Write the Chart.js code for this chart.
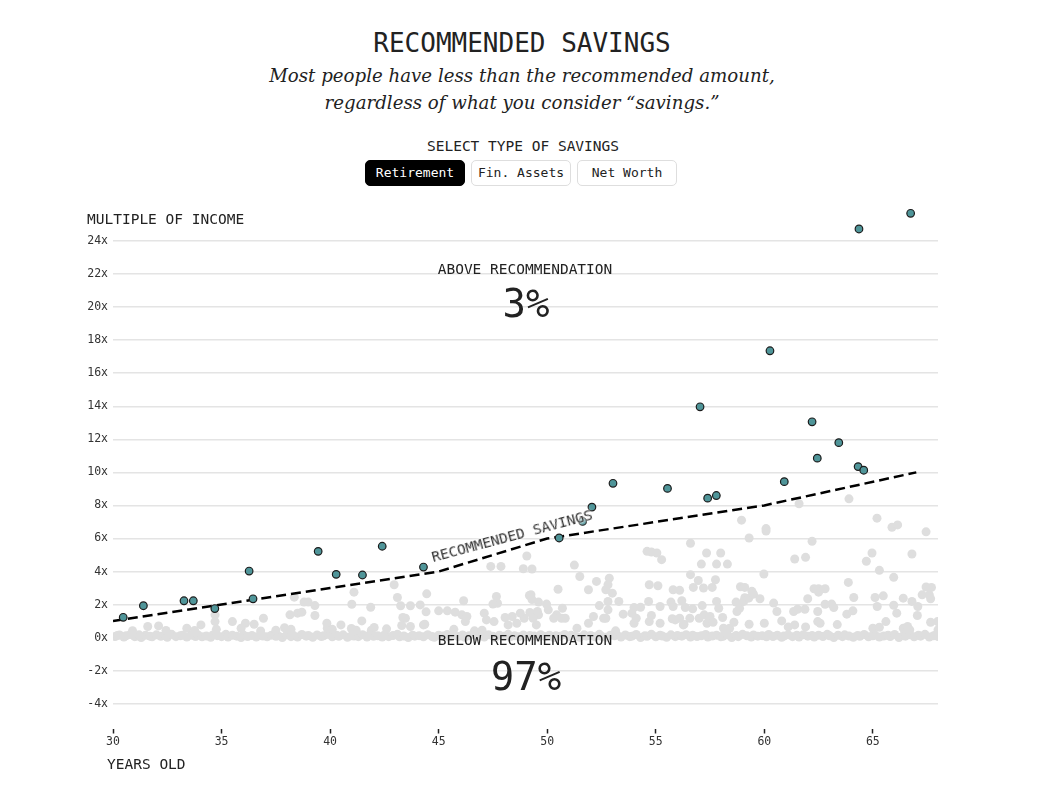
<!DOCTYPE html>
<html><head><meta charset="utf-8">
<script src="https://cdn.jsdelivr.net/npm/chart.js@4.4.1/dist/chart.umd.min.js"></script>
<style>
html,body{margin:0;padding:0;background:#fff;width:1040px;height:800px;overflow:hidden;}
body{position:relative;font-family:"DejaVu Sans Mono",monospace;color:#222;}
.abs{position:absolute;white-space:nowrap;line-height:1;z-index:2;}
.c{transform:translate(-50%,-50%);}
.l{transform:translate(0,-50%);}
#title{left:522px;top:43px;font-size:26px;}
.sub{left:522px;font-family:"DejaVu Serif",serif;font-style:italic;font-size:18.2px;color:#222;}
#s1{top:76px;} #s2{top:103px;}
#sel{left:523px;top:146px;font-size:14.5px;}
#btns{position:absolute;left:365px;top:160px;display:flex;gap:6px;z-index:2;}
#btns div{width:98px;height:24px;line-height:24px;text-align:center;font-size:13px;border:1px solid #dedede;border-radius:5px;background:#fff;color:#222;}
#btns div.on{background:#000;color:#fff;border-color:#000;}
#ylab{left:87px;top:219px;font-size:14.5px;}
#xlab{left:107px;top:764px;font-size:14.5px;}
.ann{font-size:14.5px;}
.pct{font-size:39px;}
#rot{left:512px;top:536px;font-size:14.5px;color:#333;transform:translate(-50%,-50%) rotate(-15deg);text-shadow:0 0 2px #fff,0 0 3px #fff,0 0 4px #fff;}
#wrap{position:absolute;left:0;top:200px;width:1040px;height:600px;z-index:1;}
</style>
</head>
<body>
<div id="title" class="abs c">RECOMMENDED SAVINGS</div>
<div id="s1" class="abs c sub">Most people have less than the recommended amount,</div>
<div id="s2" class="abs c sub">regardless of what you consider “savings.”</div>
<div id="sel" class="abs c">SELECT TYPE OF SAVINGS</div>
<div id="btns"><div class="on">Retirement</div><div>Fin. Assets</div><div>Net Worth</div></div>
<div id="ylab" class="abs l">MULTIPLE OF INCOME</div>
<div id="xlab" class="abs l">YEARS OLD</div>
<div class="abs c ann" style="left:525px;top:269px;">ABOVE RECOMMENDATION</div>
<div class="abs c pct" style="left:526px;top:303px;">3%</div>
<div class="abs c ann" style="left:525px;top:640px;">BELOW RECOMMENDATION</div>
<div class="abs c pct" style="left:526px;top:676px;">97%</div>
<div id="rot" class="abs">RECOMMENDED SAVINGS</div>
<div id="wrap"><canvas id="c"></canvas></div>
<script>
const xTicks = [30,35,40,45,50,55,60,65];
const yTicks = [-4,-2,0,2,4,6,8,10,12,14,16,18,20,22,24];

const recAges = [30,35,40,45,50,55,60,67];
const recValues = [1,2,3,4,6,7,8,10];

const aboveAges = [30.47,31.4,33.27,33.7,34.69,36.27,36.45,39.45,40.28,41.49,42.4,44.3,50.55,51.63,52.06,53.03,55.54,57.04,57.39,57.79,60.26,60.92,62.2,62.44,63.43,64.32,64.58,64.36,66.74];
const aboveValues = [1.23,1.93,2.23,2.23,1.76,4.03,2.35,5.22,3.83,3.79,5.53,4.27,6.03,7.03,7.9,9.34,9.03,13.97,8.44,8.6,17.36,9.44,13.06,10.86,11.8,10.35,10.13,24.73,25.68];

const belowScatter = [
[30.9,0.42],[31.6,0.67],[32.1,0.71],[32.44,0.43],[33.4,0.57],[34.05,0.77],[34.7,1.38],[34.7,0.97],[35.5,0.97],[36.1,0.87],[36.5,0.81],[36.93,1.17],[36.8,0.4],[37.5,0.45],[35.9,0.57],[34.76,0.5],[33.76,0.43],[38.15,1.38],[38.5,1.48],[38.7,1.54],[38.8,2.15],[38.99,2.15],[38.35,2.45],[39.3,1.94],[39.3,1.34],[39.85,0.87],[39.87,0.57],[38.2,0.5],[37.9,0.6],
[40.5,0.77],[41.1,2.75],[41.0,2.02],[41.87,1.84],[41.46,1.01],[41.2,0.45],[41.9,0.45],[42.03,0.61],[42.6,0.53],[42.95,3.2],[43.1,2.43],[43.25,1.93],[43.7,1.93],[44.15,1.98],[44.45,2.65],[44.42,1.56],[43.35,1.22],[43.47,1.17],[43.3,0.73],[43.7,0.67],[44.3,0.77],[44.36,0.81],[40.98,0.55],[40.1,0.5],
[45.0,1.62],[45.4,1.62],[45.76,1.54],[46.15,2.23],[46.07,1.38],[46.3,1.28],[46.23,0.97],[46.65,0.41],[47.1,1.48],[47.2,1.07],[47.55,0.97],[47.66,2.49],[47.71,2.08],[47.5,2.03],[47.4,4.31],[47.87,4.31],[48.9,4.17],[49.06,4.94],[48.2,0.77],[48.39,1.28],[48.6,0.87],[48.94,1.17],[48.06,1.22],[48.76,1.48],[49.18,2.55],[49.2,1.52],[49.25,2.6],[49.3,2.3],[49.3,4.15],[49.6,2.15],[49.97,2.03],[50.05,1.68],[49.6,1.38],[49.35,1.17],[49.55,1.58],[49.5,0.77],[45.7,0.5],[47.0,0.45],
[50.5,2.93],[50.66,1.17],[50.43,1.38],[50.7,1.78],[50.3,1.17],[50.83,1.17],[51.25,4.39],[51.5,3.7],[51.37,0.57],[51.9,2.9],[51.9,0.87],[52.27,3.4],[52.13,1.28],[52.4,1.94],[52.6,1.17],[52.7,2.9],[52.8,3.2],[52.86,3.6],[52.8,2.19],[52.8,1.68],[52.7,1.17],[53.0,2.69],[53.3,2.19],[53.5,1.42],[53.15,0.41],[53.9,1.48],[54.0,1.82],[54.0,0.87],[54.1,1.17],[54.3,1.84],[54.6,5.22],[54.8,5.18],[54.7,3.2],[54.67,2.19],[54.8,1.34],[54.7,0.97],
[55.05,5.12],[55.27,4.72],[55.1,3.14],[55.2,1.88],[55.2,0.87],[55.7,2.15],[55.8,2.9],[55.8,1.88],[55.76,1.14],[55.9,1.07],[56.1,2.86],[56.2,2.23],[56.1,1.17],[56.3,0.81],[56.36,1.82],[56.6,5.71],[56.6,3.81],[56.73,3.04],[56.57,1.17],[56.7,1.74],[56.27,0.77],[56.96,3.46],[57.14,1.94],[57.0,1.17],[57.2,3.0],[57.1,4.45],[57.34,5.12],[57.23,1.38],[57.36,0.87],[57.5,1.28],[57.6,3.04],[57.75,3.5],[57.8,4.45],[57.8,2.19],[57.64,0.93],[57.9,1.78],[57.99,5.12],[58.08,1.22],[58.12,0.57],[58.3,4.45],[58.4,0.57],[58.6,0.93],[58.74,1.58],[58.86,1.78],[58.7,2.15],[58.9,3.08],[58.95,7.11],[59.05,2.19],[59.1,3.04],[59.1,2.42],[59.28,2.39],[59.3,6.03],[59.3,0.81],[59.43,2.8],[59.5,2.63],[59.8,2.35],[59.98,3.85],
[60.0,0.87],[60.08,6.6],[60.08,6.45],[60.43,2.09],[60.58,1.58],[60.8,1.01],[61.1,0.65],[61.35,1.58],[61.4,4.76],[61.4,0.77],[61.53,1.72],[61.6,8.1],[61.87,1.72],[61.9,4.86],[61.9,0.65],[62.0,2.35],[62.2,5.83],[62.29,2.96],[62.46,1.58],[62.46,0.97],[62.5,2.96],[62.5,2.75],[62.57,0.87],[62.8,2.96],[62.8,2.02],[63.1,2.03],[63.2,1.82],[63.36,0.79],[63.8,1.42],[63.87,3.34],[63.9,8.4],[64.08,1.62],[64.12,2.43],[64.7,4.62],[64.96,5.12],[65.0,0.57],[65.1,2.43],[65.19,7.23],[65.2,1.88],[65.3,4.07],[65.3,0.63],[65.48,2.53],[65.6,0.97],[65.88,6.68],[65.96,3.65],[65.96,1.96],[66.1,1.48],[66.14,6.82],[66.4,2.39],[66.4,0.57],[66.6,0.67],[66.7,0.47],[66.8,5.06],[66.8,2.19],[67.07,1.88],[67.05,1.34],[67.27,2.59],[67.45,6.4],[67.45,3.06],[67.6,2.59],[67.66,2.35],[67.7,3.04],[67.66,0.93],[67.98,0.97],[68.0,0.47]
];

const bandAges = [
30.1,30.3,30.5,30.6,30.8,31.0,31.1,31.3,31.5,31.7,
31.8,32.0,32.2,32.4,32.5,32.7,32.9,33.1,33.2,33.4,
33.6,33.8,33.9,34.1,34.3,34.5,34.6,34.8,35.0,35.2,
35.3,35.5,35.7,35.9,36.0,36.2,36.4,36.6,36.8,36.9,
37.1,37.3,37.5,37.6,37.8,38.0,38.2,38.3,38.5,38.7,
38.9,39.0,39.2,39.4,39.6,39.7,39.9,40.1,40.3,40.4,
40.6,40.8,41.0,41.1,41.3,41.5,41.7,41.8,42.0,42.2,
42.4,42.5,42.7,42.9,43.1,43.2,43.4,43.6,43.8,43.9,
44.1,44.3,44.5,44.7,44.8,45.0,45.2,45.4,45.5,45.7,
45.9,46.1,46.2,46.4,46.6,46.8,46.9,47.1,47.3,47.5,
47.6,47.8,48.0,48.2,48.3,48.5,48.7,48.9,49.0,49.2,
49.4,49.6,49.7,49.9,50.1,50.3,50.4,50.6,50.8,51.0,
51.1,51.3,51.5,51.7,51.8,52.0,52.2,52.4,52.5,52.7,
52.9,53.1,53.2,53.4,53.6,53.8,53.9,54.1,54.3,54.5,
54.6,54.8,55.0,55.2,55.3,55.5,55.7,55.9,56.0,56.2,
56.4,56.6,56.7,56.9,57.1,57.3,57.4,57.6,57.8,58.0,
58.1,58.3,58.5,58.7,58.8,59.0,59.2,59.4,59.5,59.7,
59.9,60.1,60.2,60.4,60.6,60.8,60.9,61.1,61.3,61.5,
61.6,61.8,62.0,62.2,62.3,62.5,62.7,62.9,63.0,63.2,
63.4,63.6,63.7,63.9,64.1,64.3,64.4,64.6,64.8,65.0,
65.1,65.3,65.5,65.7,65.8,66.0,66.2,66.4,66.5,66.7,
66.9,67.1,67.2,67.4,67.6,67.8,67.9,68.0,30.2,31.2
];
const bandValues = [
0.07,0.16,0.03,0.11,0.19,0.06,0.1,0.01,0.15,0.09,
0.05,0.17,0.08,0.13,0.02,0.2,0.06,0.11,0.15,0.04,
0.14,0.07,0.18,0.05,0.1,0.02,0.16,0.12,0.06,0.2,
0.04,0.14,0.09,0.0,0.17,0.07,0.13,0.03,0.19,0.1,
0.05,0.15,0.08,0.11,0.01,0.17,0.06,0.15,0.04,0.19,
0.09,0.13,0.02,0.16,0.07,0.11,0.2,0.05,0.14,0.08,
0.17,0.02,0.12,0.1,0.06,0.18,0.04,0.14,0.08,0.11,
0.03,0.16,0.06,0.13,0.2,0.05,0.1,0.01,0.15,0.09,
0.12,0.05,0.18,0.07,0.02,0.15,0.1,0.19,0.04,0.13,
0.07,0.16,0.02,0.11,0.19,0.06,0.14,0.04,0.17,0.09,
0.01,0.14,0.08,0.2,0.05,0.11,0.06,0.16,0.03,0.13,
0.1,0.04,0.18,0.07,0.15,0.0,0.12,0.09,0.19,0.05,
0.15,0.07,0.02,0.17,0.1,0.13,0.05,0.2,0.08,0.02,
0.14,0.11,0.18,0.04,0.16,0.06,0.09,0.19,0.01,0.11,
0.08,0.2,0.05,0.14,0.1,0.02,0.17,0.06,0.13,0.09,
0.18,0.03,0.15,0.07,0.11,0.19,0.04,0.1,0.15,0.05,
0.08,0.17,0.01,0.13,0.06,0.2,0.11,0.04,0.16,0.09,
0.12,0.05,0.19,0.07,0.14,0.02,0.1,0.17,0.06,0.14,
0.03,0.18,0.09,0.13,0.04,0.15,0.07,0.2,0.11,0.0,
0.15,0.06,0.17,0.1,0.02,0.13,0.08,0.19,0.05,0.11,
0.16,0.04,0.1,0.14,0.07,0.19,0.01,0.12,0.09,0.18,
0.05,0.14,0.09,0.2,0.04,0.11,0.16,0.07,0.13,0.17
];

const MONO = '"DejaVu Sans Mono", monospace';
const pairs = (xs, ys) => xs.slice(0, Math.min(xs.length, ys.length)).map((x, i) => ({x: x, y: ys[i]}));

new Chart(document.getElementById('c'), {
  type: 'scatter',
  data: {
    datasets: [
      {label: 'Above recommendation', data: pairs(aboveAges, aboveValues), backgroundColor: '#4f9599', borderColor: '#1c1c1c', borderWidth: 1.2, pointRadius: 3.8, order: 0},
      {label: 'Recommended savings', type: 'line', data: pairs(recAges, recValues), borderColor: '#000', borderWidth: 2.5, borderDash: [10, 5], pointRadius: 0, fill: false, tension: 0, order: 1},
      {label: 'Below recommendation', data: belowScatter.map(p => ({x: p[0], y: p[1]})), backgroundColor: '#dedede', borderWidth: 0, pointRadius: 4.5, order: 2},
      {label: 'Below recommendation (near zero)', data: pairs(bandAges, bandValues), backgroundColor: '#dedede', borderWidth: 0, pointRadius: 4.5, order: 3}
    ]
  },
  options: {
    responsive: true, maintainAspectRatio: false, animation: false,
    layout: {padding: {top: 8, left: 0, right: 102, bottom: 41.5}},
    plugins: {legend: {display: false}, tooltip: {enabled: false}},
    scales: {
      x: {
        type: 'linear', min: 30, max: 68,
        afterBuildTicks: s => { s.ticks = xTicks.map(v => ({value: v})); },
        afterFit: s => { s.height = 30; s.paddingLeft = 0; s.paddingRight = 0; },
        grid: {drawOnChartArea: false, drawTicks: true, tickLength: 5, tickColor: '#222', tickWidth: 1.5},
        border: {display: false},
        ticks: {font: {family: MONO, size: 11.5}, color: '#333', padding: 2, maxRotation: 0}
      },
      y: {
        type: 'linear', min: -5.5, max: 26,
        afterBuildTicks: s => { s.ticks = yTicks.map(v => ({value: v})); },
        afterFit: s => { s.width = 113; s.paddingTop = 0; s.paddingBottom = 0; },
        grid: {color: '#e4e4e4', lineWidth: 1.5, drawTicks: false},
        border: {display: false},
        ticks: {callback: v => v + 'x', font: {family: MONO, size: 11.5}, color: '#333', padding: 5}
      }
    }
  }
});
</script>
</body></html>
